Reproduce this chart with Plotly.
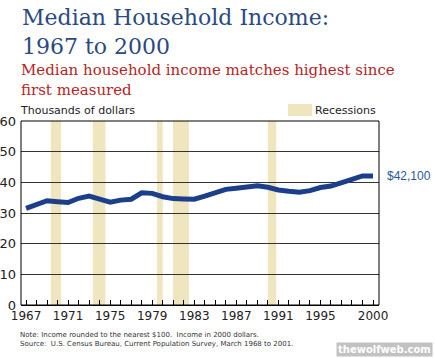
import plotly.graph_objects as go

years = list(range(1967, 2001))
income = [31.5, 32.6, 34.0, 33.7, 33.4, 34.8, 35.5, 34.5, 33.5, 34.2,
          34.5, 36.6, 36.4, 35.3, 34.7, 34.6, 34.5, 35.5, 36.4, 37.7,
          38.1, 38.4, 38.9, 38.4, 37.5, 37.1, 36.8, 37.3, 38.3, 38.8,
          39.7, 41.0, 42.1, 42.1]
recession_start = [1969.35, 1973.35, 1979.45, 1980.97, 1990.0]
recession_end = [1970.33, 1974.55, 1980.0, 1982.5, 1990.8]
label_years = [1967, 1971, 1975, 1979, 1983, 1987, 1991, 1995, 2000]
y_ticks = [0, 10, 20, 30, 40, 50, 60]

BAND = "#efe6bf"
BLUE = "#1b3f8b"

fig = go.Figure()
fig.add_trace(go.Scatter(x=years, y=income, mode="lines",
                         line=dict(color=BLUE, width=5), hoverinfo="skip"))

shapes = []
for s, e in zip(recession_start, recession_end):
    shapes.append(dict(type="rect", xref="x", yref="y", x0=s, x1=e, y0=0, y1=60,
                       fillcolor=BAND, line=dict(width=0), layer="below"))
# legend swatch
shapes.append(dict(type="rect", xref="paper", yref="paper", x0=(288-21)/358, x1=(312-21)/358,
                   y0=(305-116)/184, y1=(305-104)/184, fillcolor=BAND, line=dict(width=0)))
# plot frame
shapes.append(dict(type="rect", xref="paper", yref="paper", x0=0, x1=1, y0=0, y1=1,
                   line=dict(color="black", width=1), layer="above"))

ticktext = [str(y) if y in label_years else "" for y in years]

annotations = [
    dict(text="Median Household Income:<br>1967 to 2000", xref="paper", yref="paper",
         x=-1/358, y=(305-3)/184, xanchor="left", yanchor="top", showarrow=False, align="left",
         font=dict(family="DejaVu Serif", size=22, color="#2b4a80")),
    dict(text="Median household income matches highest since<br>first measured", xref="paper", yref="paper",
         x=-2/358, y=(305-59)/184, xanchor="left", yanchor="top", showarrow=False, align="left",
         font=dict(family="DejaVu Serif", size=15, color="#b52525")),
    dict(text="Thousands of dollars", xref="paper", yref="paper",
         x=-3/358, y=(305-110)/184, xanchor="left", yanchor="middle", showarrow=False,
         font=dict(family="DejaVu Sans", size=11, color="#222222")),
    dict(text="Recessions", xref="paper", yref="paper",
         x=(313-21)/358, y=(305-110)/184, xanchor="left", yanchor="middle", showarrow=False,
         font=dict(family="DejaVu Sans", size=11, color="#222222")),
    dict(text="$%s" % format(int(round(income[-1] * 1000)), ","), xref="paper", yref="y",
         x=(385-21)/358, y=income[-1], xanchor="left", yanchor="middle", showarrow=False,
         font=dict(family="Liberation Sans", size=12, color="#2b5a9a")),
    dict(text="Note: Income rounded to the nearest $100.  Income in 2000 dollars.<br>"
              "Source:  U.S. Census Bureau, Current Population Survey, March 1968 to 2001.",
         xref="paper", yref="paper", x=-3/358, y=(305-329)/184, xanchor="left", yanchor="top",
         showarrow=False, align="left",
         font=dict(family="DejaVu Sans", size=7, color="#333333")),
    dict(text="<b>thewolfweb.com</b>", xref="paper", yref="paper", x=(433-21)/358, y=(305-357)/184,
         xanchor="right", yanchor="bottom", showarrow=False, bgcolor="#c2c2c2", borderpad=1,
         font=dict(family="DejaVu Sans", size=10, color="white")),
]

fig.update_layout(
    width=435, height=358,
    margin=dict(l=21, r=56, t=121, b=53),
    paper_bgcolor="white", plot_bgcolor="white",
    showlegend=False, shapes=shapes, annotations=annotations,
    xaxis=dict(range=[1966.52, 2000.57], tickvals=years, ticktext=ticktext,
               ticks="inside", ticklen=5, tickcolor="black", showgrid=False,
               showline=True, linecolor="black", zeroline=False, automargin=False,
               tickfont=dict(family="DejaVu Sans", size=12, color="#222222")),
    yaxis=dict(range=[0, 60], tickvals=y_ticks, ticks="", showgrid=True,
               gridcolor="#333333", gridwidth=1, zeroline=False, showline=False,
               automargin=False,
               tickfont=dict(family="DejaVu Sans", size=13, color="#222222"), ticklabelstandoff=4),
)

fig.write_html("out.html", config={"displayModeBar": False},
               post_script="document.body.style.margin='0';document.body.style.overflow='hidden';")
